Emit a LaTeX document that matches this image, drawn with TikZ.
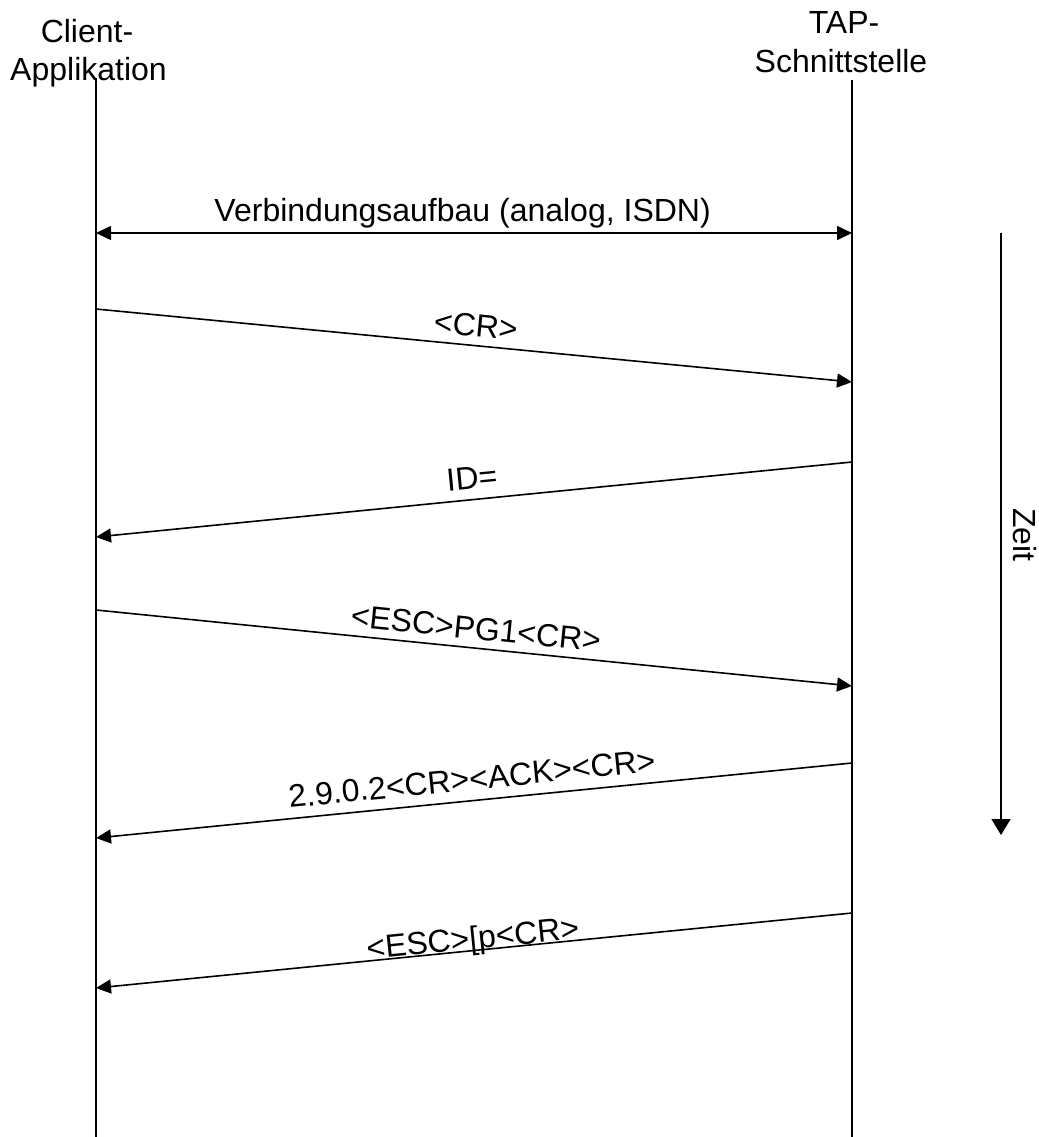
\documentclass[tikz,border=0pt]{standalone}
\usepackage{fontspec}
\setmainfont{Liberation Sans}
\usetikzlibrary{arrows.meta}
\tikzset{
  txt/.style={font=\fontsize{32bp}{38bp}\selectfont, inner sep=0pt},
  life/.style={line width=1.6bp},
  msg/.style={line width=1.6bp, -{Triangle[length=15bp,width=14bp]}},
  dmsg/.style={line width=1.6bp, {Triangle[length=15bp,width=14bp]}-{Triangle[length=15bp,width=14bp]}},
  mlbl/.style={txt, sloped, above, text depth=0pt, inner xsep=0pt},
}
\begin{document}
\begin{tikzpicture}[x=1bp,y=-1bp]
\useasboundingbox (0,0) rectangle (1039,1137);
% headers
\node[txt, anchor=base] (c1) at (87,42) {Client-};
\node[txt, anchor=base] (c2) at (88.5,80) {Applikation};
\node[txt, anchor=base] (t1) at (844,33) {TAP-};
\node[txt, anchor=base] (t2) at (841,72) {Schnittstelle};
% lifelines
\coordinate (Ltop) at (96,78);
\coordinate (Lbot) at (96,1137);
\coordinate (Rtop) at (852,80);
\coordinate (Rbot) at (852,1137);
\draw[life] (Ltop) -- (Lbot);
\draw[life] (Rtop) -- (Rbot);
% message endpoints
\coordinate (a1) at (96,233);  \coordinate (b1) at (852,233);
\coordinate (a2) at (96,309);  \coordinate (b2) at (852,382);
\coordinate (b3) at (852,462); \coordinate (a3) at (96,537);
\coordinate (a4) at (96,610);  \coordinate (b4) at (852,686);
\coordinate (b5) at (852,763); \coordinate (a5) at (96,838);
\coordinate (b6) at (852,913); \coordinate (a6) at (96,988);
% messages
\draw[dmsg] (a1) -- node[mlbl, pos=0.485, inner ysep=11bp] (m1) {Verbindungsaufbau (analog, ISDN)} (b1);
\draw[msg] (a2) -- node[mlbl, pos=0.5, inner ysep=8bp] (m2) {<CR>} (b2);
\draw[msg] (b3) -- node[mlbl, pos=0.5, inner ysep=10bp] (m3) {ID=} (a3);
\draw[msg] (a4) -- node[mlbl, pos=0.5, inner ysep=8bp] (m4) {<ESC>PG1<CR>} (b4);
\draw[msg] (b5) -- node[mlbl, pos=0.5, inner ysep=10bp] (m5) {2.9.0.2<CR><ACK><CR>} (a5);
\draw[msg] (b6) -- node[mlbl, pos=0.5, inner ysep=0.5bp] (m6) {<ESC>[p<CR>} (a6);
% time arrow
\coordinate (z1) at (1001,233);
\coordinate (z2) at (1001,835);
\draw[line width=1.6bp, -{Triangle[length=16bp,width=19bp]}] (z1) -- (z2);
\node[txt, rotate=-90] (zeit) at (1024.5,535) {Zeit};
\end{tikzpicture}
\end{document}
